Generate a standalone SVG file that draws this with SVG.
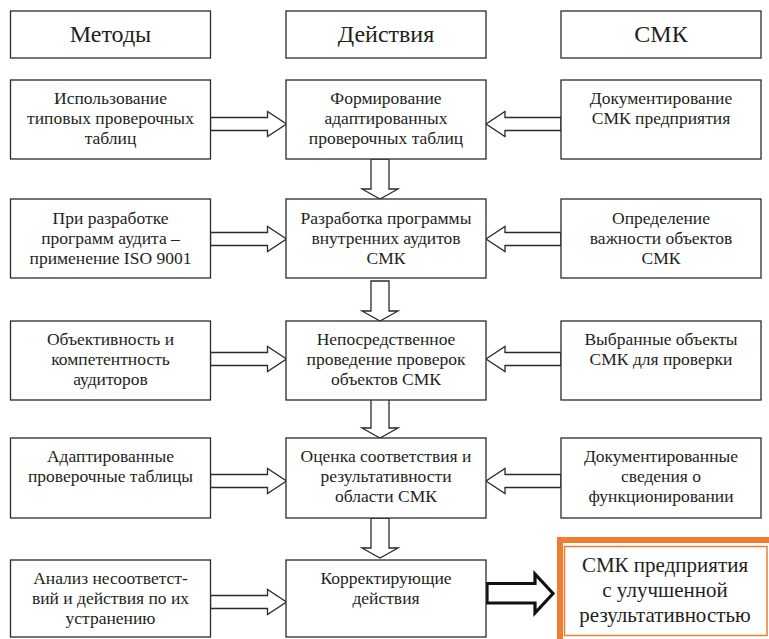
<svg xmlns="http://www.w3.org/2000/svg" width="769" height="639" viewBox="0 0 769 639" font-family="Times New Roman, Liberation Serif, Tinos, Nimbus Roman, FreeSerif, DejaVu Serif, Noto Serif, serif">
<style>
.box{fill:#fff;stroke:#2b2b2b;stroke-width:1.3}
.t{font-size:17.5px;fill:#231f20;text-anchor:middle}
.h{font-size:24px;fill:#231f20;text-anchor:middle}
.o{font-size:21px;fill:#231f20;text-anchor:middle}
.ar{fill:#fff;stroke:#2b2b2b;stroke-width:1.3;stroke-linejoin:miter}
.bold{fill:#fff;stroke:#111;stroke-width:3.2;stroke-linejoin:miter}
</style>
<defs>
<path id="ahr" d="M0,-6.5 H57 V-12.5 L76,0 L57,12.5 V6.5 H0 Z"/>
<path id="ahl" d="M0,-6.5 H-56 V-12.5 L-75,0 L-56,12.5 V6.5 H0 Z"/>
<path id="av" d="M-9,0 V30 H-18 L0,40 L18,30 H9 V0 Z"/>
</defs>
<rect width="769" height="639" fill="#fff"/>

<g id="headers">
<g id="h-methods"><rect class="box" x="10.5" y="11" width="200" height="47"/><text class="h" x="110.5" y="42">Методы</text></g>
<g id="h-actions"><rect class="box" x="286" y="11" width="200" height="47"/><text class="h" x="386" y="42">Действия</text></g>
<g id="h-smk"><rect class="box" x="561" y="11" width="200" height="47"/><text class="h" x="661" y="42">СМК</text></g>
</g>

<g id="connectors">
<use href="#ahr" class="ar" x="210.5" y="124"/>
<use href="#ahl" class="ar" x="561" y="124"/>
<use href="#av" class="ar" x="380" y="159"/>
<use href="#ahr" class="ar" x="210.5" y="239"/>
<use href="#ahl" class="ar" x="561" y="239"/>
<use href="#av" class="ar" x="380" y="281"/>
<use href="#ahr" class="ar" x="210.5" y="359"/>
<use href="#ahl" class="ar" x="561" y="359"/>
<use href="#av" class="ar" x="380" y="398"/>
<use href="#ahr" class="ar" x="210.5" y="481"/>
<use href="#ahl" class="ar" x="561" y="481"/>
<use href="#av" class="ar" x="380" y="518"/>
<use href="#ahr" class="ar" x="210.5" y="602"/>
<path class="bold" d="M487,583.5 H535 V574 L553,593.5 L535,613 V603 H487 Z"/>
</g>

<g id="nodes">
<g id="r1-left"><rect class="box" x="10.5" y="80" width="200" height="79"/><text class="t" x="110.5" y="104">Использование</text><text class="t" x="110.5" y="124">типовых проверочных</text><text class="t" x="110.5" y="144">таблиц</text></g>
<g id="r1-mid"><rect class="box" x="286" y="80" width="200" height="79"/><text class="t" x="386" y="104">Формирование</text><text class="t" x="386" y="124">адаптированных</text><text class="t" x="386" y="144">проверочных таблиц</text></g>
<g id="r1-right"><rect class="box" x="561" y="80" width="200" height="79"/><text class="t" x="661" y="104">Документирование</text><text class="t" x="661" y="124">СМК предприятия</text></g>

<g id="r2-left"><rect class="box" x="10.5" y="199" width="200" height="79"/><text class="t" x="110.5" y="224">При разработке</text><text class="t" x="110.5" y="244">программ аудита –</text><text class="t" x="110.5" y="264">применение ISO 9001</text></g>
<g id="r2-mid"><rect class="box" x="286" y="199" width="200" height="79"/><text class="t" x="386" y="224">Разработка программы</text><text class="t" x="386" y="244">внутренних аудитов</text><text class="t" x="386" y="264">СМК</text></g>
<g id="r2-right"><rect class="box" x="561" y="199" width="200" height="79"/><text class="t" x="661" y="224">Определение</text><text class="t" x="661" y="244">важности объектов</text><text class="t" x="661" y="264">СМК</text></g>

<g id="r3-left"><rect class="box" x="10.5" y="321" width="200" height="79"/><text class="t" x="110.5" y="345">Объективность и</text><text class="t" x="110.5" y="365">компетентность</text><text class="t" x="110.5" y="385">аудиторов</text></g>
<g id="r3-mid"><rect class="box" x="286" y="321" width="200" height="79"/><text class="t" x="386" y="345">Непосредственное</text><text class="t" x="386" y="365">проведение проверок</text><text class="t" x="386" y="385">объектов СМК</text></g>
<g id="r3-right"><rect class="box" x="561" y="321" width="200" height="79"/><text class="t" x="661" y="345">Выбранные объекты</text><text class="t" x="661" y="365">СМК для проверки</text></g>

<g id="r4-left"><rect class="box" x="10.5" y="438" width="200" height="80"/><text class="t" x="110.5" y="462">Адаптированные</text><text class="t" x="110.5" y="482">проверочные таблицы</text></g>
<g id="r4-mid"><rect class="box" x="286" y="438" width="200" height="80"/><text class="t" x="386" y="462">Оценка соответствия и</text><text class="t" x="386" y="482">результативности</text><text class="t" x="386" y="502">области СМК</text></g>
<g id="r4-right"><rect class="box" x="561" y="438" width="200" height="80"/><text class="t" x="661" y="462">Документированные</text><text class="t" x="661" y="482">сведения о</text><text class="t" x="661" y="502">функционировании</text></g>

<g id="r5-left"><rect class="box" x="10.5" y="560" width="200" height="77"/><text class="t" x="110.5" y="584">Анализ несоответст-</text><text class="t" x="110.5" y="604">вий и действия по их</text><text class="t" x="110.5" y="624">устранению</text></g>
<g id="r5-mid"><rect class="box" x="286" y="560" width="200" height="77"/><text class="t" x="386" y="584">Корректирующие</text><text class="t" x="386" y="604">действия</text></g>
<g id="r5-result"><rect x="560" y="540" width="212" height="102" fill="#fff" stroke="#ee7d31" stroke-width="6"/><rect x="564.5" y="546.5" width="202.5" height="89" fill="#fff" stroke="#ee7d31" stroke-width="1.5"/><text class="o" x="665" y="572">СМК предприятия</text><text class="o" x="665" y="597">с улучшенной</text><text class="o" x="665" y="622">результативностью</text></g>
</g>
</svg>
